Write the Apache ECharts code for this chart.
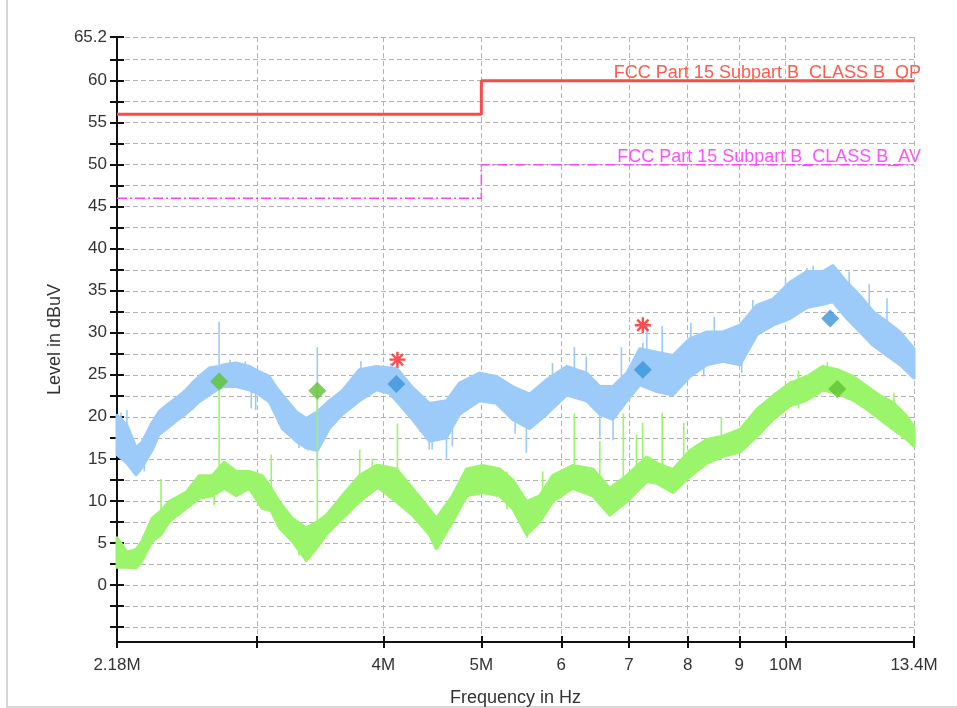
<!DOCTYPE html>
<html><head><meta charset="utf-8">
<script src="https://cdn.jsdelivr.net/npm/echarts@6/dist/echarts.min.js"></script>
<style>html,body{margin:0;padding:0;background:#fff}#c{width:957px;height:708px}</style>
</head><body><div id="c"></div>
<script>
// ---- axis ticks / labels ----
const xMin = 2.18, xMax = 13.4;           // MHz
const xTickValues = [2.18, 3, 4, 5, 6, 7, 8, 9, 10, 13.4];
const xLabelValues = [2.18, 4, 5, 6, 7, 8, 9, 10, 13.4];
const xLabelTexts = ['2.18M', '4M', '5M', '6', '7', '8', '9', '10M', '13.4M'];
const yMin = -6.8, yMax = 65.2;
const yTickValues = [-5, -2.5, 0, 2.5, 5, 7.5, 10, 12.5, 15, 17.5, 20, 22.5, 25, 27.5, 30, 32.5, 35, 37.5, 40, 42.5, 45, 47.5, 50, 52.5, 55, 57.5, 60, 62.5, 65.2];
const yLabelValues = [0, 5, 10, 15, 20, 25, 30, 35, 40, 45, 50, 55, 60, 65.2];

// ---- limit lines ----
const qpFreq = [2.18, 5, 5, 13.4];
const qpLevel = [56, 56, 60, 60];
const avFreq = [2.18, 5, 5, 13.4];
const avLevel = [46, 46, 50, 50];
const qpName = 'FCC Part 15 Subpart B_CLASS B_QP';
const avName = 'FCC Part 15 Subpart B_CLASS B_AV';

// ---- peak trace (blue) envelope ----
const pkFreq = [2.18, 2.23, 2.277, 2.308, 2.329, 2.361, 2.399, 2.454, 2.494, 2.552, 2.587, 2.629, 2.689, 2.751, 2.783, 2.86, 2.946, 3.0, 3.084, 3.13, 3.177, 3.28, 3.355, 3.441, 3.536, 3.643, 3.787, 3.936, 4.055, 4.12, 4.273, 4.442, 4.618, 4.757, 4.979, 5.176, 5.369, 5.581, 5.802, 6.074, 6.357, 6.549, 6.746, 6.965, 7.174, 7.458, 7.736, 8.042, 8.36, 8.671, 9.014, 9.371, 9.72, 10.1, 10.5, 10.89, 11.14, 11.5, 11.85, 12.21, 12.6, 12.98, 13.4];
const pkLow  = [15.5, 14.5, 13.1, 14.0, 14.8, 16.0, 17.9, 18.8, 19.5, 20.4, 21.0, 21.8, 22.6, 23.4, 23.6, 23.6, 23.2, 22.8, 21.8, 20.2, 18.6, 17.1, 16.3, 16.0, 18.6, 20.3, 21.9, 23.2, 22.8, 21.9, 19.7, 17.1, 17.5, 20.3, 21.9, 21.6, 19.7, 18.6, 20.3, 22.6, 21.9, 20.3, 19.7, 21.9, 23.8, 23.0, 22.6, 24.8, 26.2, 26.6, 26.2, 29.8, 30.9, 31.7, 33.0, 33.4, 33.7, 31.7, 30.1, 28.5, 27.3, 26.2, 24.6];
const pkHigh = [20.2, 19.0, 16.3, 17.0, 17.9, 19.3, 20.6, 21.6, 22.2, 23.2, 24.0, 24.8, 25.8, 26.0, 26.2, 26.4, 26.0, 25.5, 24.8, 23.6, 22.6, 20.6, 19.8, 20.6, 21.9, 23.1, 25.6, 26.0, 25.8, 25.8, 23.5, 21.6, 21.9, 24.0, 25.2, 24.8, 23.6, 22.7, 24.4, 26.0, 25.2, 23.6, 23.6, 25.2, 28.1, 27.7, 27.3, 29.3, 30.1, 30.1, 30.9, 33.3, 34.0, 36.0, 37.3, 37.3, 38.0, 36.0, 34.4, 32.5, 31.3, 30.1, 28.1];
// spikes: [freq MHz, from dB, to dB]
const pkSpikes = [[2.2, 17.5, 20.5], [2.23, 17, 20.8], [2.32, 13.5, 16], [2.751, 24, 31.3], [2.82, 24.5, 26.8], [2.92, 24, 26.6], [2.96, 21, 24], [2.99, 20.8, 24],
  [3.3, 16.3, 19], [3.37, 16, 19], [3.441, 14, 20], [3.441, 18, 28.3], [3.8, 24, 26.6], [4.07, 24, 26.4], [4.35, 18.2, 21], [4.44, 16.1, 19], [4.47, 16.1, 19],
  [4.618, 15, 19], [4.68, 16.5, 20], [5.4, 18, 21], [5.54, 15.7, 19], [5.88, 23, 26.4], [6.18, 24, 28.3], [6.35, 24, 27.2], [6.55, 17.5, 21], [6.75, 17.2, 21],
  [6.88, 24, 28.3], [7.224, 25, 28.8], [7.29, 26, 30.8], [7.55, 27, 30.8], [7.64, 22.6, 25], [8.06, 27, 31.2], [8.3, 24.8, 27], [8.5, 28, 31.9], [9.05, 25.2, 27],
  [9.28, 31, 33.9], [10.0, 33, 36.5], [10.5, 35, 37.7], [10.65, 35, 38], [11.56, 34, 37.3], [12.1, 32, 35.8], [12.6, 30, 34.1], [13.1, 27, 29.6]];

// ---- average trace (green) envelope ----
const avgFreq = [2.18, 2.23, 2.277, 2.308, 2.361, 2.41, 2.454, 2.552, 2.629, 2.708, 2.783, 2.86, 2.946, 3.035, 3.098, 3.155, 3.25, 3.355, 3.441, 3.512, 3.643, 3.787, 3.936, 3.963, 4.12, 4.273, 4.442, 4.514, 4.682, 4.834, 5.013, 5.212, 5.369, 5.543, 5.71, 5.882, 6.157, 6.445, 6.7, 6.965, 7.29, 7.458, 7.736, 8.042, 8.36, 8.671, 9.014, 9.371, 9.72, 10.1, 10.5, 10.89, 11.25, 11.66, 12.04, 12.4, 12.78, 13.19, 13.4];
const avgLow  = [2.1, 2.1, 2.0, 2.9, 5.2, 6.0, 7.5, 9.1, 10.3, 10.6, 11.5, 10.6, 11.5, 9.1, 8.8, 6.8, 5.2, 2.9, 4.5, 6.0, 7.9, 9.9, 11.5, 11.5, 9.9, 8.3, 6.0, 4.3, 7.5, 10.6, 11.0, 10.6, 9.1, 6.0, 7.5, 9.9, 11.5, 10.6, 8.3, 9.9, 12.3, 12.1, 11.0, 12.9, 14.5, 15.3, 15.8, 17.7, 19.7, 21.3, 22.0, 23.2, 22.8, 22.0, 20.9, 19.7, 18.5, 17.3, 16.5];
const avgHigh = [5.6, 3.9, 4.2, 5.2, 7.9, 8.8, 9.9, 11.0, 13.0, 13.0, 14.6, 13.5, 13.5, 13.0, 11.5, 9.9, 7.9, 6.8, 7.5, 8.3, 10.6, 13.0, 14.2, 14.2, 13.8, 11.5, 9.0, 7.9, 10.6, 13.8, 14.2, 13.8, 12.5, 9.9, 10.6, 13.0, 14.2, 13.8, 11.5, 13.0, 15.2, 14.5, 13.7, 16.0, 17.3, 17.7, 18.5, 20.9, 22.5, 24.0, 24.8, 26.0, 25.6, 24.8, 23.6, 22.5, 21.7, 20.0, 18.8];
const avgSpikes = [[2.41, 8, 12.6], [2.751, 13, 24.2], [2.72, 9.5, 12.5], [3.098, 11, 15.5], [3.3, 3.5, 6], [3.441, 6, 23.1], [3.79, 12, 16.1], [3.9, 12, 15], [4.13, 13, 19.2],
  [4.5, 4.3, 7], [5.3, 9, 13.5], [5.55, 5.6, 8], [5.75, 9, 13.5], [6.18, 13, 20.4], [6.55, 12, 17.1], [6.91, 11, 20.4], [7.12, 12, 17.9], [7.22, 14, 19.3], [7.46, 12.1, 14],
  [7.55, 14, 20.5], [7.78, 11, 13], [7.93, 14, 19.3], [8.64, 17, 20], [10.3, 21, 25.5], [11.0, 23, 26.5], [12.8, 19, 22.9]];

// ---- final measurement markers ----
const avgMarks = [[2.751, 24.2], [3.441, 23.1], [11.25, 23.3]];
const pkMarks = [[4.12, 23.9], [7.224, 25.6], [11.07, 31.7]];
const starMarks = [[4.13, 26.8], [7.224, 30.9]];

// ---------------------------------------------------------
const FONT = 'Liberation Sans, Arial, sans-serif';
const BLUE = '#9ccbfa', GREEN = '#9af56a';
const nudge = v => v <= xMin ? v * 1.0000001 : (v >= xMax ? v * 0.9999999 : v);
const xLabelFmt = v => {
  let best = 0, bd = Infinity;
  xLabelValues.forEach((x, i) => { const d = Math.abs(Math.log(x) - Math.log(v)); if (d < bd) { bd = d; best = i; } });
  return xLabelTexts[best];
};
const pairs = (xs, ys) => xs.map((x, i) => [x, ys[i]]);

// band (min/max envelope of a noisy receiver trace) drawn as one polygon plus its spikes
function band(name, freq, lo, hi, color, spikes, z) {
  return {
    name: name, type: 'custom', coordinateSystem: 'cartesian2d', z: z, silent: true, animation: false,
    data: freq.map((f, i) => [f, lo[i], hi[i]]),
    encode: { x: 0, y: [1, 2] },
    renderItem: function (params, api) {
      if (params.dataIndex !== 0) return null;
      const pts = [];
      for (let i = 0; i < freq.length; i++) pts.push(api.coord([freq[i], hi[i]]));
      for (let i = freq.length - 1; i >= 0; i--) pts.push(api.coord([freq[i], lo[i]]));
      const children = [{
        type: 'polygon', shape: { points: pts },
        style: { fill: color, stroke: color, lineWidth: 3, lineJoin: 'round' }
      }];
      spikes.forEach(s => {
        const a = api.coord([s[0], s[1]]), b = api.coord([s[0], s[2]]);
        children.push({ type: 'line', shape: { x1: a[0], y1: a[1], x2: b[0], y2: b[1] },
          style: { stroke: color, lineWidth: 1.6 } });
      });
      return { type: 'group', children: children };
    }
  };
}

const STAR = 'path://M8.5 0H11.5V20H8.5Z M0 8.5H20V11.5H0Z M4 1.9L18.1 16L16 18.1L1.9 4Z M16 1.9L18.1 4L4 18.1L1.9 16Z';

const chart = echarts.init(document.getElementById('c'), null, { renderer: 'canvas' });
chart.setOption({
  animation: false,
  backgroundColor: '#fff',
  grid: { left: 117, right: 43, top: 37, bottom: 66, outerBoundsMode: 'none', containLabel: false },
  xAxis: [{
    type: 'log', logBase: 10, min: xMin, max: xMax,
    position: 'bottom',
    name: 'Frequency in Hz', nameLocation: 'middle', nameGap: 47, nameMoveOverlap: false,
    nameTextStyle: { fontFamily: FONT, fontSize: 18, color: '#333' },
    axisLine: { show: true, onZero: false, lineStyle: { color: '#111', width: 2 } },
    axisTick: { show: true, inside: false, length: 6, customValues: xTickValues.map(nudge), lineStyle: { color: '#111', width: 2 } },
    axisLabel: { show: true, customValues: xLabelValues.map(nudge), formatter: xLabelFmt, margin: 15,
      fontFamily: FONT, fontSize: 17, color: '#333', hideOverlap: false },
    splitLine: { show: true, lineStyle: { color: '#b4b4b4', width: 1, type: [5, 3] } },
    minorTick: { show: false }, minorSplitLine: { show: false }
  }, {
    type: 'log', logBase: 10, min: xMin, max: xMax, position: 'bottom',
    axisLine: { show: false, onZero: false },
    axisTick: { show: true, inside: true, length: 6, customValues: xTickValues.map(nudge), lineStyle: { color: '#111', width: 2 } },
    axisLabel: { show: false }, splitLine: { show: false }
  }],
  yAxis: [{
    type: 'value', min: yMin, max: yMax, position: 'left',
    name: 'Level in dBuV', nameLocation: 'middle', nameGap: 53, nameRotate: 90, nameMoveOverlap: false,
    nameTextStyle: { fontFamily: FONT, fontSize: 18, color: '#333' },
    axisLine: { show: true, onZero: false, lineStyle: { color: '#111', width: 2 } },
    axisTick: { show: true, inside: false, length: 7, customValues: yTickValues, lineStyle: { color: '#111', width: 2 } },
    axisLabel: { show: true, customValues: yLabelValues, margin: 10, fontFamily: FONT, fontSize: 17, color: '#333',
      formatter: v => (Math.abs(v - 65.2) < 1e-6 ? '65.2' : String(Math.round(v))) },
    splitLine: { show: true, lineStyle: { color: '#b4b4b4', width: 1, type: [5, 3] } }
  }, {
    type: 'value', min: yMin, max: yMax, position: 'left',
    axisLine: { show: false, onZero: false },
    axisTick: { show: true, inside: true, length: 7, customValues: yTickValues, lineStyle: { color: '#111', width: 2 } },
    axisLabel: { show: false }, splitLine: { show: false }
  }],
  graphic: [
    { type: 'rect', shape: { x: 7, y: -4, width: 960, height: 711 }, style: { fill: 'none', stroke: '#d6d6d6', lineWidth: 2 }, silent: true, z: -10 },
    { type: 'text', x: 921, y: 82, style: { text: qpName, fill: '#ff5a4e', font: '18px ' + FONT, textAlign: 'right', textVerticalAlign: 'bottom' }, z: 10 },
    { type: 'text', x: 921, y: 166, style: { text: avName, fill: '#ff50ff', font: '18px ' + FONT, textAlign: 'right', textVerticalAlign: 'bottom' }, z: 10 }
  ],
  series: [
    band('peak', pkFreq, pkLow, pkHigh, BLUE, pkSpikes, 2),
    band('avg', avgFreq, avgLow, avgHigh, GREEN, avgSpikes, 3),
    { name: 'QP limit', type: 'line', data: pairs(qpFreq, qpLevel), symbol: 'none',
      lineStyle: { color: '#ff4848', width: 3 }, z: 4, silent: true },
    { name: 'AV limit', type: 'line', data: pairs(avFreq, avLevel), symbol: 'none',
      lineStyle: { color: '#ff44ff', width: 1.5, type: [10, 3, 2, 3] }, z: 4, silent: true },
    { name: 'avg final', type: 'scatter', data: avgMarks, symbol: 'diamond', symbolSize: 18,
      itemStyle: { color: '#5fc232' }, z: 6, silent: true },
    { name: 'peak final', type: 'scatter', data: pkMarks, symbol: 'diamond', symbolSize: 18,
      itemStyle: { color: '#3b93db' }, z: 6, silent: true },
    { name: 'critical', type: 'scatter', data: starMarks, symbol: STAR, symbolSize: 16,
      itemStyle: { color: '#ff2020' }, z: 7, silent: true }
  ]
});
</script>
</body></html>
